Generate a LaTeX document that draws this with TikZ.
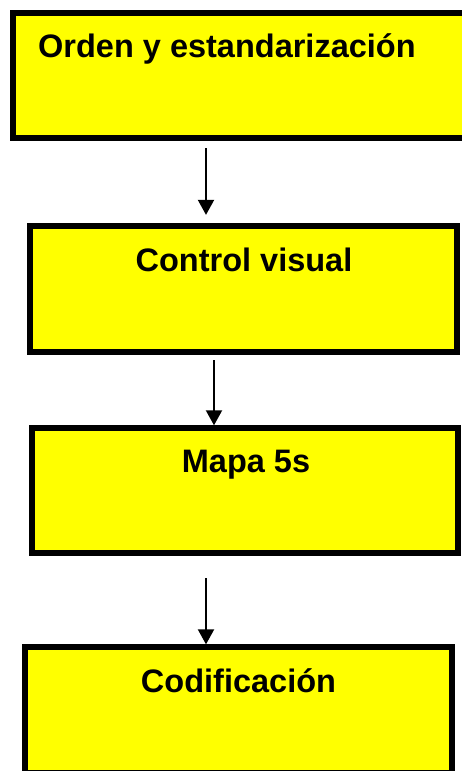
\documentclass[tikz,border=0pt]{standalone}
\usepackage{fontspec}
\setmainfont{Liberation Sans}
\usetikzlibrary{arrows.meta}

\definecolor{boxyellow}{RGB}{255,255,0}

\tikzset{
  stagebox/.style={draw=black, fill=boxyellow, line width=6pt, inner sep=0pt,
    rectangle, anchor=center},
  stagelabel/.style={text=black, inner sep=0pt, anchor=base,
    font=\fontsize{32.5}{38}\selectfont\bfseries},
  flowarrow/.style={draw=black, line width=2pt,
    -{Triangle[width=16pt,length=15pt]}}
}

\begin{document}
\begin{tikzpicture}[x=1pt,y=-1pt]
  \useasboundingbox (0,0) rectangle (462,771);
  \clip (0,0) rectangle (462,771);

  % stage boxes
  \node[stagebox, minimum width=462pt, minimum height=125pt] (b1) at (244,75.5) {};
  \node[stagebox, minimum width=427.3pt, minimum height=125.7pt] (b2) at (243.4,289.2) {};
  \node[stagebox, minimum width=426.6pt, minimum height=125pt] (b3) at (245,490.8) {};
  \node[stagebox, minimum width=426.5pt, minimum height=125.7pt] (b4) at (238.3,710.2) {};

  % titles
  \node[stagelabel, anchor=base west] (t1) at (38,57) {Orden y estandarización};
  \node[stagelabel] (t2) at (244,271) {Control visual};
  \node[stagelabel] (t3) at (246,472) {Mapa 5s};
  \node[stagelabel] (t4) at (238.5,692) {Codificación};

  % arrow starts
  \coordinate (s1) at (206,148);
  \coordinate (s2) at (214,360);
  \coordinate (s3) at (206,578);

  \draw[flowarrow, shorten >=8.5pt] (s1) -- (s1 |- b2.north);
  \draw[flowarrow] (s2) -- (s2 |- b3.north);
  \draw[flowarrow] (s3) -- (s3 |- b4.north);
\end{tikzpicture}
\end{document}
